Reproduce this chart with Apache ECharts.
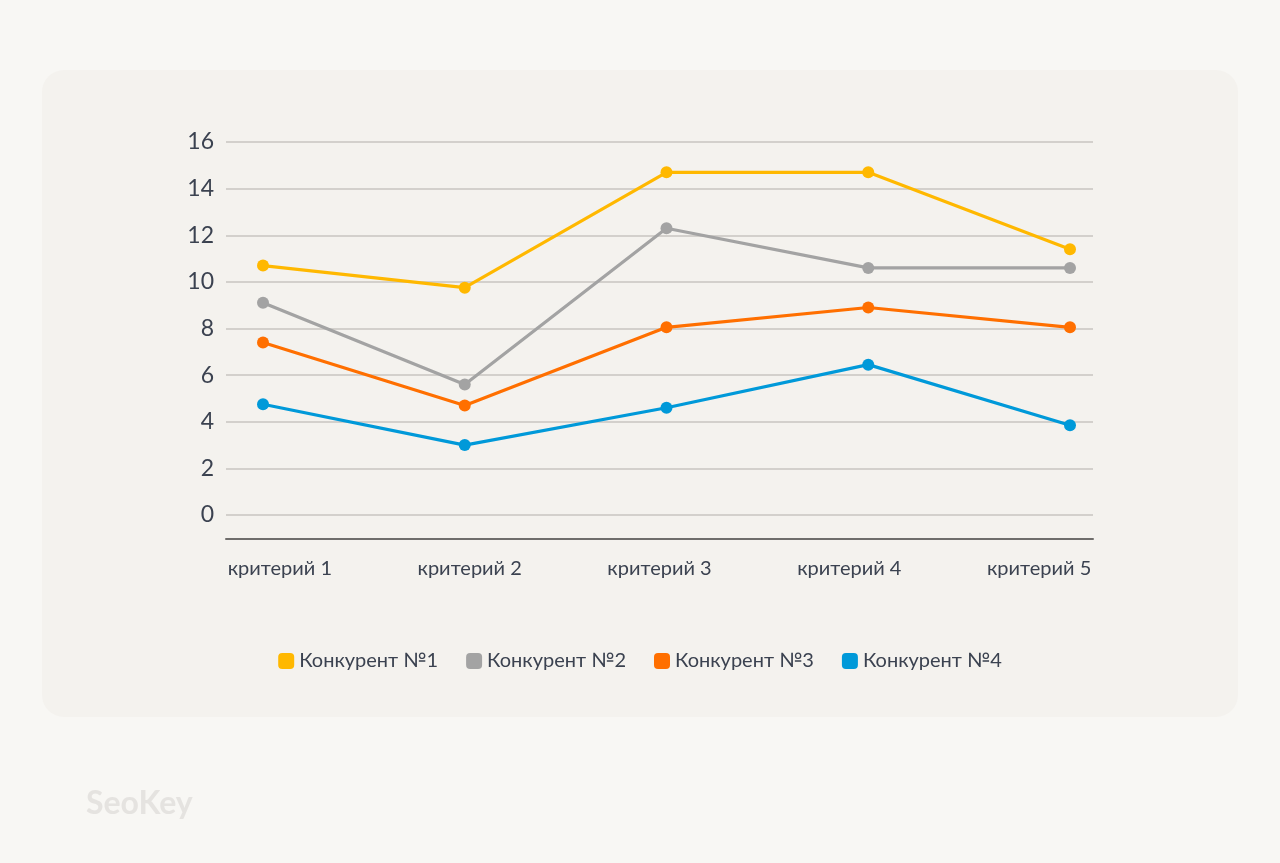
<!DOCTYPE html>
<html>
<head>
    <meta charset="utf-8">
    <script src="https://cdn.jsdelivr.net/npm/echarts@6/dist/echarts.min.js"></script>
    <style>
        html, body { margin: 0; padding: 0; background: #f8f7f4; }
        #main { width: 1280px; height: 863px; }
    </style>
</head>
<body>
<div id="main"></div>

<script type="text/javascript">
    // данные графика
    var categories = ['критерий 1', 'критерий 2', 'критерий 3', 'критерий 4', 'критерий 5'];
    var names = ['Конкурент №1', 'Конкурент №2', 'Конкурент №3', 'Конкурент №4'];
    var comp1 = [10.7, 9.75, 14.7, 14.7, 11.4];
    var comp2 = [9.1, 5.6, 12.3, 10.6, 10.6];
    var comp3 = [7.4, 4.7, 8.05, 8.9, 8.05];
    var comp4 = [4.75, 3.0, 4.6, 6.45, 3.85];
    var colors = ['#ffb800', '#a3a3a3', '#ff6f00', '#0099d9'];

    var font = 'Lato, "DejaVu Sans", sans-serif';
    var textColor = '#3b4250';
    var all = [comp1, comp2, comp3, comp4];

    var myChart = echarts.init(document.getElementById('main'));

    var series = [];
    for (var i = 0; i < all.length; i++) {
        series.push({
            name: names[i],
            type: 'line',
            xAxisIndex: 1,
            yAxisIndex: 1,
            data: all[i],
            symbol: 'circle',
            symbolSize: 12,
            lineStyle: { width: 3.2, color: colors[i] },
            itemStyle: { color: colors[i] },
            z: 10 - i
        });
    }

    myChart.setOption({
        backgroundColor: '#f8f7f4',
        animation: false,
        textStyle: { fontFamily: font },
        color: colors,
        graphic: [
            {
                type: 'rect',
                shape: { x: 42, y: 70, width: 1196, height: 647, r: 22 },
                style: { fill: '#f4f2ee' },
                z: -10
            },
            {
                type: 'text',
                left: 86,
                top: 788,
                style: {
                    text: 'SeoKey',
                    font: 'bold 32px Lato, sans-serif',
                    fill: '#e5e3e0'
                }
            }
        ],
        legend: {
            data: names,
            top: 646,
            left: 'center',
            icon: 'roundRect',
            itemWidth: 16,
            itemHeight: 16,
            itemGap: 28,
            textStyle: { fontSize: 20, color: textColor, fontFamily: font, padding: [0, 0, 0, 0] }
        },
        grid: [
            // сетка и ось Y
            { left: 226, right: 187, top: 142, height: 373 },
            // линии
            { left: 263, right: 210, top: 142, height: 373 },
            // подписи категорий
            { left: 185, right: 146, top: 142, height: 373 }
        ],
        xAxis: [
            {
                gridIndex: 0,
                type: 'category',
                data: categories,
                boundaryGap: false,
                offset: 24,
                axisLine: { onZero: false, lineStyle: { color: '#6f6d6b', width: 2 } },
                axisTick: { show: false },
                axisLabel: { show: false }
            },
            {
                gridIndex: 1,
                type: 'category',
                data: categories,
                boundaryGap: false,
                show: false
            },
            {
                gridIndex: 2,
                type: 'category',
                data: categories,
                boundaryGap: true,
                offset: 24,
                axisLine: { show: false, onZero: false },
                axisTick: { show: false },
                axisLabel: { fontSize: 20, color: textColor, margin: 20, fontFamily: font }
            }
        ],
        yAxis: [
            {
                gridIndex: 0,
                type: 'value',
                min: 0,
                max: 16,
                interval: 2,
                axisLine: { show: false },
                axisTick: { show: false },
                axisLabel: { fontSize: 23, color: textColor, margin: 12, fontFamily: font },
                splitLine: { lineStyle: { color: '#c8c5c1', width: 1.5 } }
            },
            {
                gridIndex: 1,
                type: 'value',
                min: 0,
                max: 16,
                interval: 2,
                show: false
            },
            {
                gridIndex: 2,
                type: 'value',
                min: 0,
                max: 16,
                show: false
            }
        ],
        series: series
    });
</script>
</body>
</html>
